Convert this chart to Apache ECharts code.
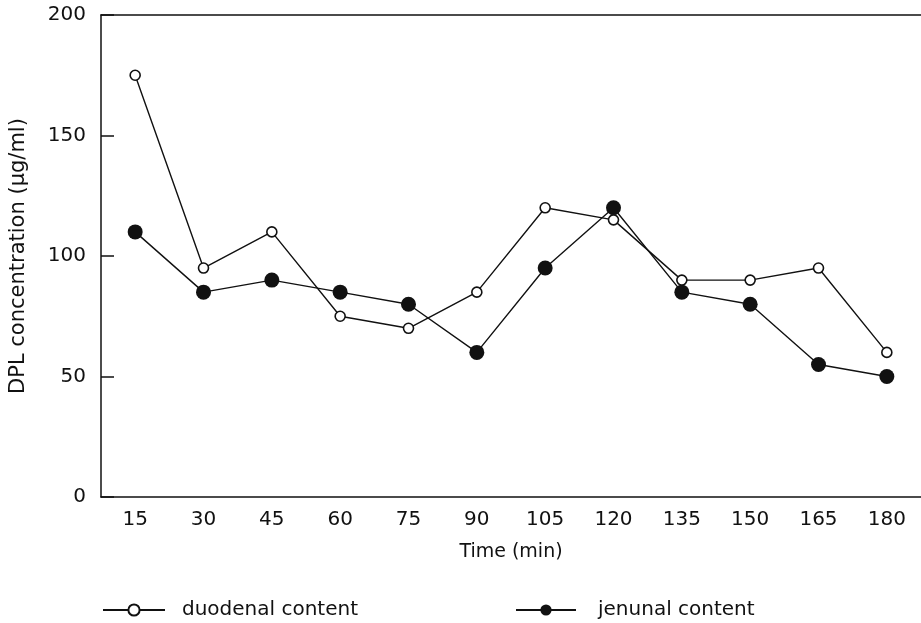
<!DOCTYPE html>
<html>
<head>
<meta charset="utf-8">
<script src="https://cdn.jsdelivr.net/npm/echarts@6/dist/echarts.min.js"></script>
<style>
  html, body { margin: 0; padding: 0; background: #fff; }
  #chart { width: 921px; height: 623px; }
</style>
</head>
<body>
<div id="chart"></div>
<script>
// time points (min)
const times = ['15', '30', '45', '60', '75', '90', '105', '120', '135', '150', '165', '180'];
// DPL concentration (ug/ml)
const duodenal = [175, 95, 110, 75, 70, 85, 120, 115, 90, 90, 95, 60];
const jenunal = [110, 85, 90, 85, 80, 60, 95, 120, 85, 80, 55, 50];

const font = 'DejaVu Sans';
const ink = '#111';

const chart = echarts.init(document.getElementById('chart'));

const option = {
    animation: false,
    backgroundColor: '#fff',
    grid: {
        left: 101,
        top: 15,
        width: 823,
        bottom: 126
    },
    legend: [
        {
            left: 97,
            top: 595,
            itemWidth: 62,
            itemHeight: 14,
            data: ['duodenal content'],
            textStyle: { fontFamily: font, fontSize: 20, color: ink, padding: [0, 0, 0, 12] }
        },
        {
            left: 510,
            top: 595,
            itemWidth: 60,
            itemHeight: 14,
            data: ['jenunal content'],
            textStyle: { fontFamily: font, fontSize: 20, color: ink, padding: [0, 0, 0, 17] }
        }
    ],
    xAxis: [
        {
            type: 'category',
            data: times,
            boundaryGap: true,
            name: 'Time (min)',
            nameLocation: 'middle',
            nameGap: 46,
            nameTextStyle: { fontFamily: font, fontSize: 19, color: ink },
            axisLine: { lineStyle: { color: ink, width: 1.5 } },
            axisTick: { inside: true, length: 13, alignWithLabel: true, lineStyle: { color: ink, width: 1.5 } },
            axisLabel: { margin: 13, fontFamily: font, fontSize: 20, color: ink },
            splitLine: { show: false }
        },
        {
            type: 'category',
            data: times,
            position: 'top',
            axisLine: { lineStyle: { color: ink, width: 1.5 } },
            axisTick: { show: false },
            axisLabel: { show: false },
            splitLine: { show: false }
        }
    ],
    yAxis: {
        type: 'value',
        min: 0,
        max: 200,
        interval: 50,
        name: 'DPL concentration (µg/ml)',
        nameLocation: 'middle',
        nameGap: 72,
        nameTextStyle: { fontFamily: font, fontSize: 21, color: ink },
        axisLine: { show: true, lineStyle: { color: ink, width: 1.5 } },
        axisTick: { show: true, inside: true, length: 13, lineStyle: { color: ink, width: 1.5 } },
        axisLabel: { margin: 15, fontFamily: font, fontSize: 20, color: ink },
        splitLine: { show: false }
    },
    series: [
        {
            name: 'duodenal content',
            type: 'line',
            data: duodenal,
            symbol: 'circle',
            symbolSize: 10,
            lineStyle: { color: ink, width: 1.4 },
            itemStyle: { color: '#fff', borderColor: ink, borderWidth: 1.6 },
            z: 3
        },
        {
            name: 'jenunal content',
            type: 'line',
            data: jenunal,
            symbol: 'circle',
            symbolSize: 15,
            lineStyle: { color: ink, width: 1.4 },
            itemStyle: { color: ink, borderColor: ink, borderWidth: 0 },
            z: 2
        }
    ]
};

chart.setOption(option);
</script>
</body>
</html>
